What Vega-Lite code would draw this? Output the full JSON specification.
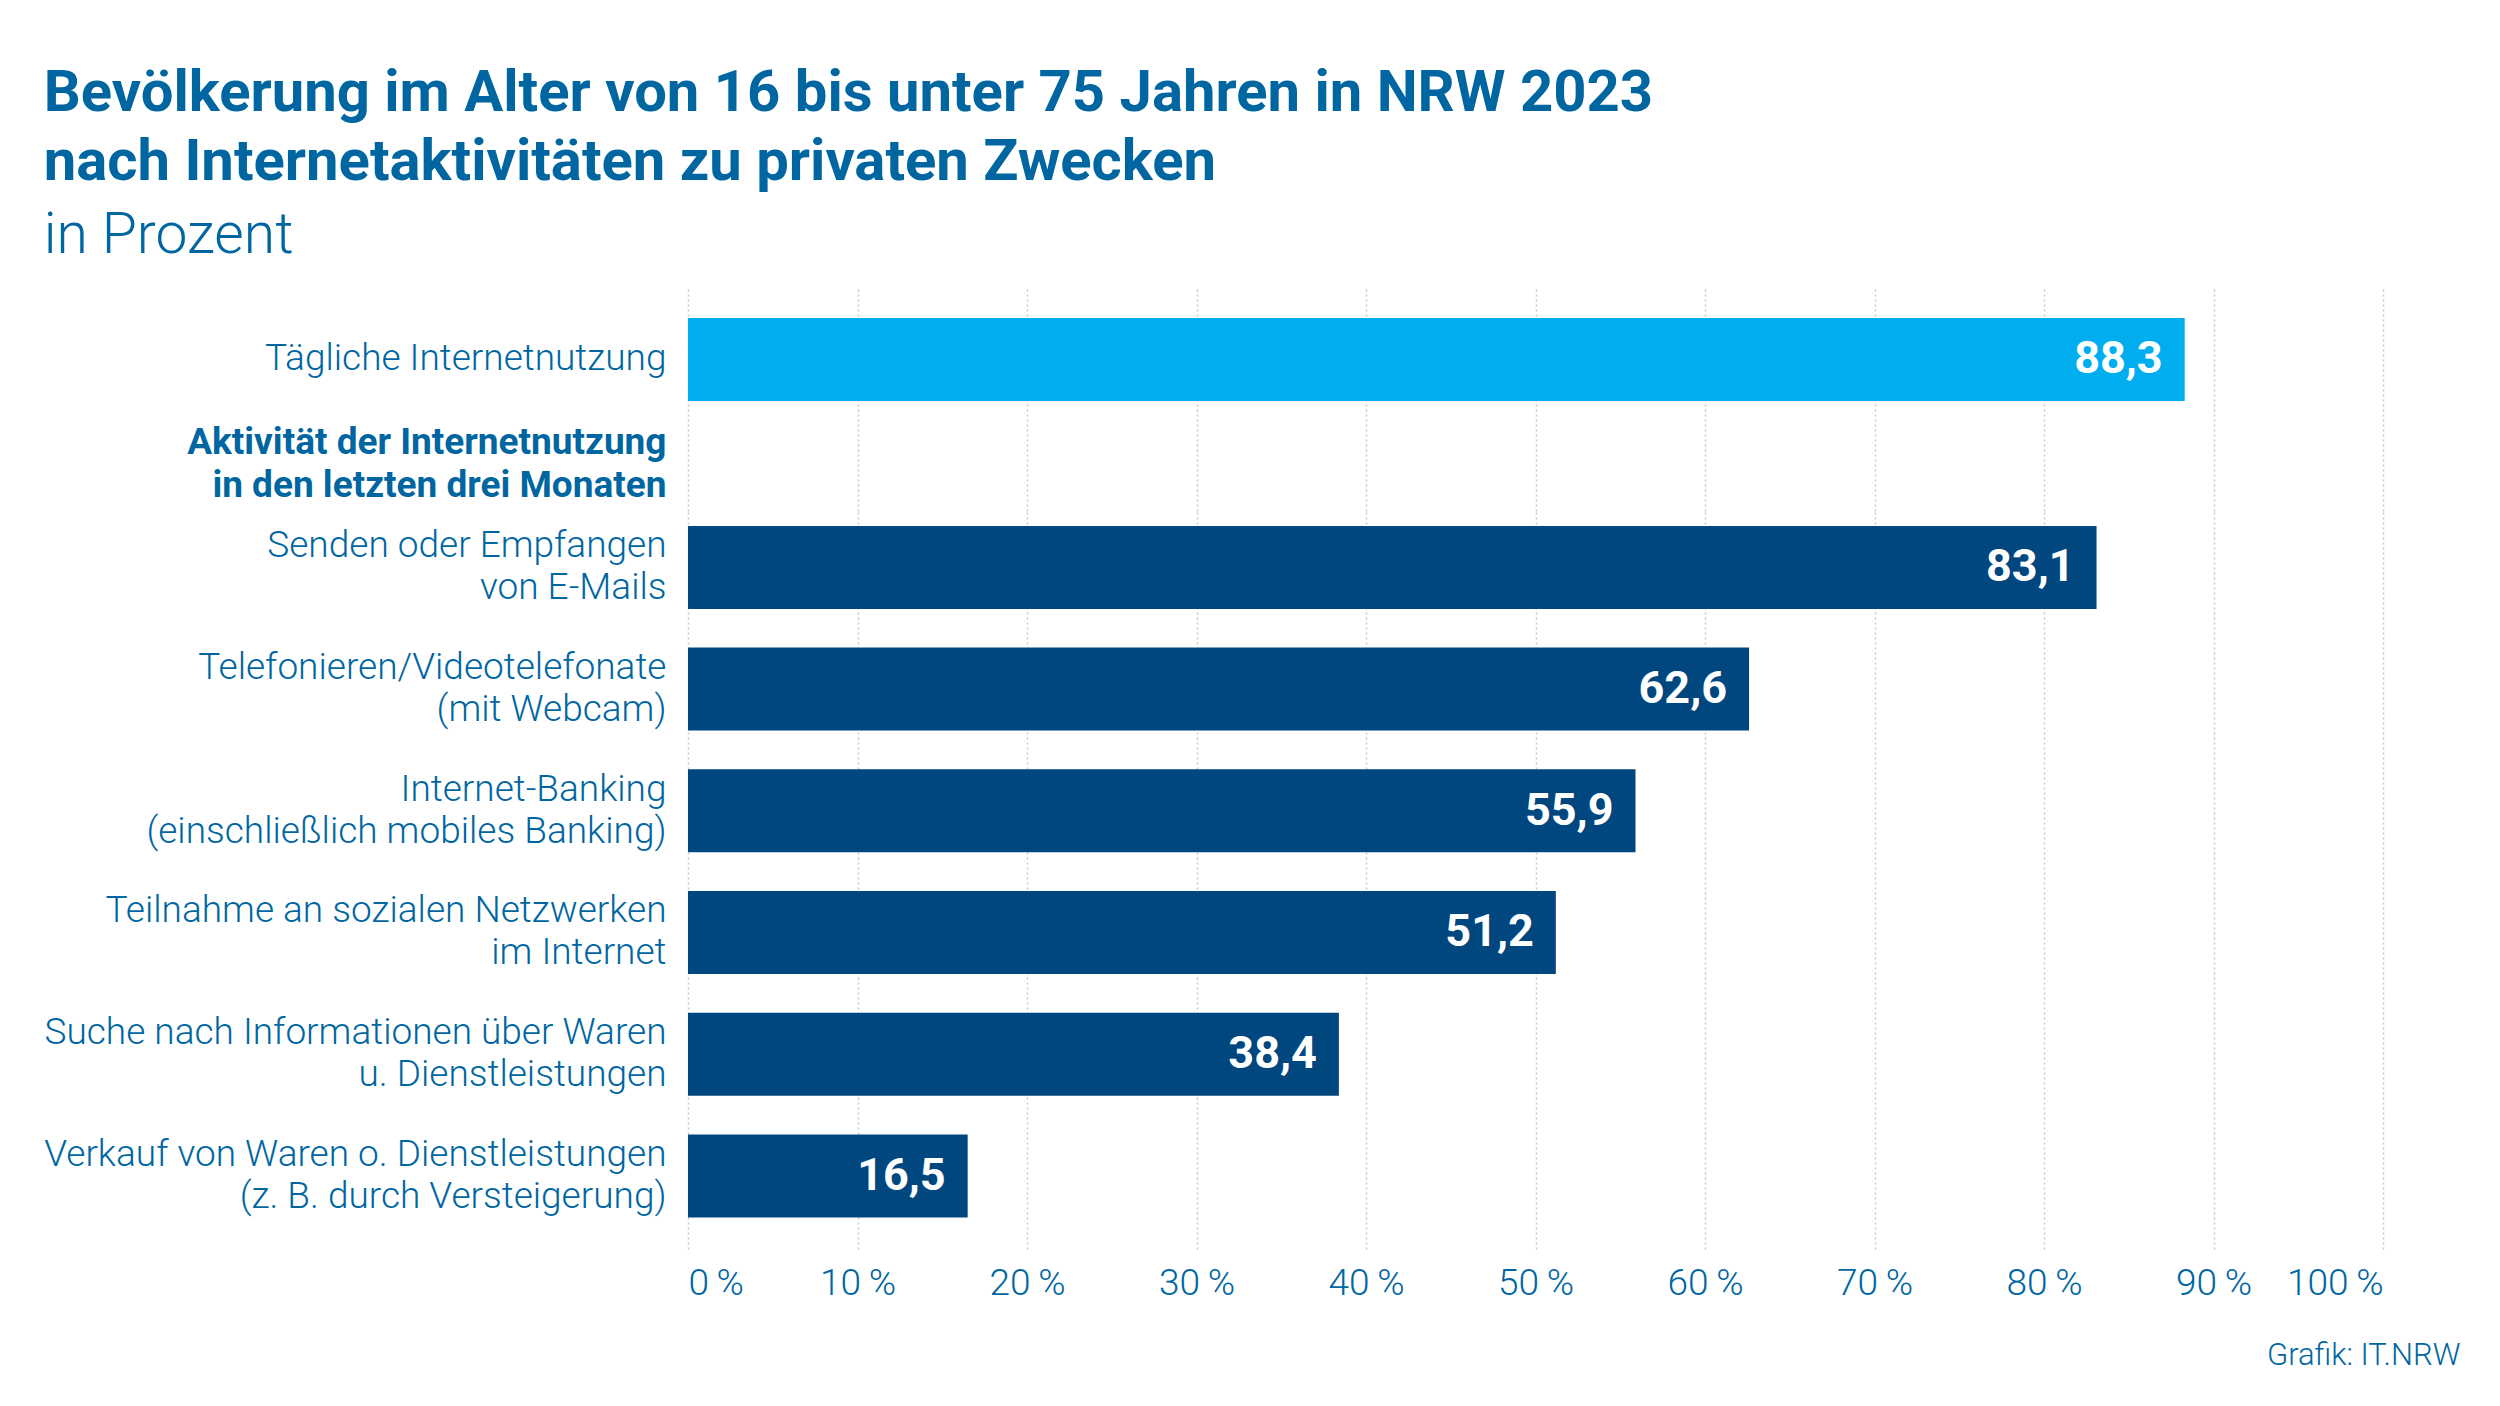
{
  "$schema": "https://vega.github.io/schema/vega-lite/v6.json",
  "background": "white",
  "padding": {"left": 43, "top": 65, "right": 30, "bottom": 30},
  "config": {
    "locale": {"number": {"decimal": ",", "thousands": ".", "grouping": [3], "currency": ["", " €"]}},
    "view": {"stroke": null},
    "font": "Roboto",
    "concat": {"spacing": 0}
  },
  "title": {
    "text": ["Bevölkerung im Alter von 16 bis unter 75 Jahren in NRW 2023", "nach Internetaktivitäten zu privaten Zwecken"],
    "subtitle": "in Prozent",
    "anchor": "start",
    "frame": "bounds",
    "font": "Roboto",
    "fontSize": 58,
    "fontWeight": "bold",
    "color": "#0066a1",
    "lineHeight": 69,
    "subtitleFont": "Roboto",
    "subtitleFontSize": 57,
    "subtitleFontWeight": 300,
    "subtitleColor": "#0066a1",
    "subtitlePadding": 16,
    "offset": 24
  },
  "datasets": {
    "oben": [
      {"kategorie": "Tägliche Internetnutzung", "wert": 88.3}
    ],
    "unten": [
      {"kategorie": "Senden oder Empfangen|von E-Mails", "wert": 83.1},
      {"kategorie": "Telefonieren/Videotelefonate|(mit Webcam)", "wert": 62.6},
      {"kategorie": "Internet-Banking|(einschließlich mobiles Banking)", "wert": 55.9},
      {"kategorie": "Teilnahme an sozialen Netzwerken|im Internet", "wert": 51.2},
      {"kategorie": "Suche nach Informationen über Waren|u. Dienstleistungen", "wert": 38.4},
      {"kategorie": "Verkauf von Waren o. Dienstleistungen|(z. B. durch Versteigerung)", "wert": 16.5}
    ]
  },
  "vconcat": [
    {
      "width": 1695,
      "height": 223,
      "data": {"name": "oben"},
      "encoding": {
        "y": {
          "field": "kategorie",
          "type": "nominal",
          "sort": null,
          "scale": {
            "domain": ["Tägliche Internetnutzung", "Aktivität der Internetnutzung|in den letzten drei Monaten"],
            "paddingInner": 0.2095,
            "paddingOuter": 0.1667,
            "align": 0.857
          },
          "axis": {
            "title": null,
            "labelExpr": "split(datum.label, '|')",
            "labelFont": "Roboto",
            "labelFontSize": 37,
            "labelFontWeight": {"condition": {"test": "indexof(datum.value, 'Aktiv') == 0", "value": "bold"}, "value": 300},
            "labelOffset": {"condition": {"test": "indexof(datum.value, '|') >= 0", "value": -21}, "value": 0},
            "labelColor": "#0066a1",
            "labelLineHeight": 43,
            "labelPadding": 22,
            "labelLimit": 1000,
            "ticks": false,
            "domain": false
          }
        },
        "x": {
          "field": "wert",
          "type": "quantitative",
          "scale": {"domain": [0, 100]},
          "axis": {
            "title": null,
            "values": [0, 10, 20, 30, 40, 50, 60, 70, 80, 90, 100],
            "labels": false,
            "ticks": false,
            "domain": false,
            "grid": true,
            "gridDash": [2, 3],
            "gridColor": "#c8c8c8",
            "gridWidth": 1.5
          }
        }
      },
      "layer": [
        {"mark": {"type": "bar", "color": "#00aeef"}},
        {
          "mark": {"type": "text", "align": "right", "baseline": "middle", "dx": -22, "color": "white", "font": "Roboto", "fontSize": 45, "fontWeight": "bold"},
          "encoding": {"text": {"field": "wert", "type": "quantitative", "format": ".1f"}}
        }
      ]
    },
    {
      "width": 1695,
      "height": 738,
      "data": {"name": "unten"},
      "encoding": {
        "y": {
          "field": "kategorie",
          "type": "nominal",
          "sort": null,
          "scale": {"paddingInner": 0.318, "paddingOuter": 0.191, "align": 0.32},
          "axis": {
            "title": null,
            "labelExpr": "split(datum.label, '|')",
            "labelFont": "Roboto",
            "labelFontSize": 37,
            "labelFontWeight": 300,
            "labelOffset": {"condition": {"test": "indexof(datum.value, '|') >= 0", "value": -21}, "value": 0},
            "labelColor": "#0066a1",
            "labelLineHeight": 42,
            "labelPadding": 22,
            "labelLimit": 1000,
            "ticks": false,
            "domain": false
          }
        },
        "x": {
          "field": "wert",
          "type": "quantitative",
          "scale": {"domain": [0, 100]},
          "axis": {
            "title": "Grafik: IT.NRW",
            "titleFont": "Roboto",
            "titleFontSize": 31,
            "titleFontWeight": 300,
            "titleColor": "#0066a1",
            "titleAlign": "right",
            "titleAnchor": "end",
            "titleBaseline": "alphabetic",
            "titleX": 1772,
            "titleY": 115,
            "values": [0, 10, 20, 30, 40, 50, 60, 70, 80, 90, 100],
            "labelExpr": "datum.value + '\u2009%'",
            "labelFont": "Roboto",
            "labelFontSize": 37,
            "labelFontWeight": 300,
            "labelColor": "#0066a1",
            "labelPadding": 16,
            "ticks": false,
            "domain": false,
            "grid": true,
            "gridDash": [2, 3],
            "gridColor": "#c8c8c8",
            "gridWidth": 1.5
          }
        }
      },
      "layer": [
        {"mark": {"type": "bar", "color": "#00467f"}},
        {
          "mark": {"type": "text", "align": "right", "baseline": "middle", "dx": -22, "color": "white", "font": "Roboto", "fontSize": 45, "fontWeight": "bold"},
          "encoding": {"text": {"field": "wert", "type": "quantitative", "format": ".1f"}}
        }
      ]
    }
  ]
}
